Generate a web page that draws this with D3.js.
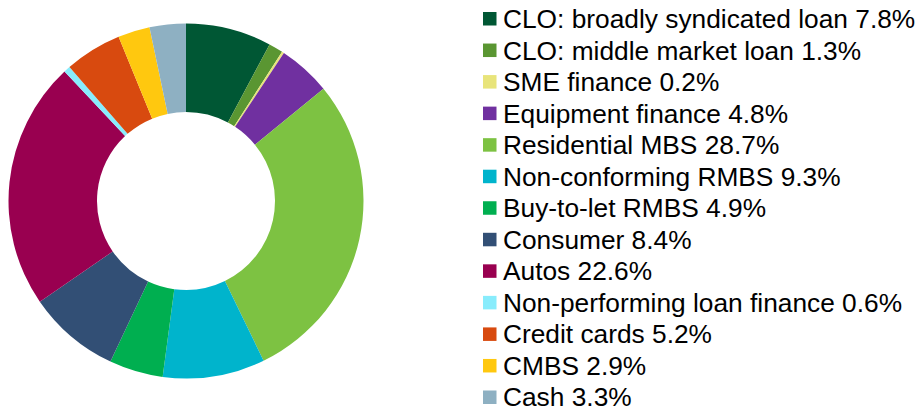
<!DOCTYPE html>
<html>
<head>
<meta charset="utf-8">
<script src="https://cdn.jsdelivr.net/npm/d3@7"></script>
<style>
  html, body { margin: 0; padding: 0; background: #fff; }
  svg { display: block; }
</style>
</head>
<body>
<svg width="921" height="413"></svg>
<script>
// Portfolio breakdown (%)
const categories = [
    "CLO: broadly syndicated loan", "CLO: middle market loan", "SME finance",
    "Equipment finance", "Residential MBS", "Non-conforming RMBS",
    "Buy-to-let RMBS", "Consumer", "Autos", "Non-performing loan finance",
    "Credit cards", "CMBS", "Cash"
];
const shares = [7.8, 1.3, 0.2, 4.8, 28.7, 9.3, 4.9, 8.4, 22.6, 0.6, 5.2, 2.9, 3.3];
const colours = [
    "#005734", "#5a9632", "#e8e47a", "#7030a0", "#7dc242", "#00b4cc",
    "#00af50", "#324f75", "#990050", "#88ecfc", "#d84a0f", "#ffc80f", "#8eb0c2"
];

const chartDonut = () => {
    const cx = 186, cy = 201;
    const outer = 177.5, inner = 89;

    const data = categories.map((name, i) => ({ name, value: shares[i], colour: colours[i] }));

    const svg = d3.select("svg")
        .attr("font-family", "'Liberation Sans', Arial, sans-serif");

    const pie = d3.pie()
        .value(d => d.value)
        .sort(null);

    const arc = d3.arc()
        .innerRadius(inner)
        .outerRadius(outer);

    svg.append("g")
        .attr("transform", `translate(${cx},${cy})`)
      .selectAll("path")
      .data(pie(data))
      .join("path")
        .attr("d", arc)
        .attr("fill", d => d.data.colour);

    // legend
    const y = d3.scalePoint()
        .domain(categories)
        .range([18.5, 397]);

    const row = svg.append("g")
      .selectAll("g")
      .data(data)
      .join("g")
        .attr("transform", d => `translate(483,${y(d.name)})`);

    row.append("rect")
        .attr("x", 0)
        .attr("y", -6.5)
        .attr("width", 13.5)
        .attr("height", 13.5)
        .attr("fill", d => d.colour);

    row.append("text")
        .attr("x", 20)
        .attr("dy", "0.36em")
        .attr("font-size", 26.3)
        .attr("fill", "#000")
        .text(d => `${d.name} ${d.value.toFixed(1)}%`);
};

chartDonut();
</script>
</body>
</html>
